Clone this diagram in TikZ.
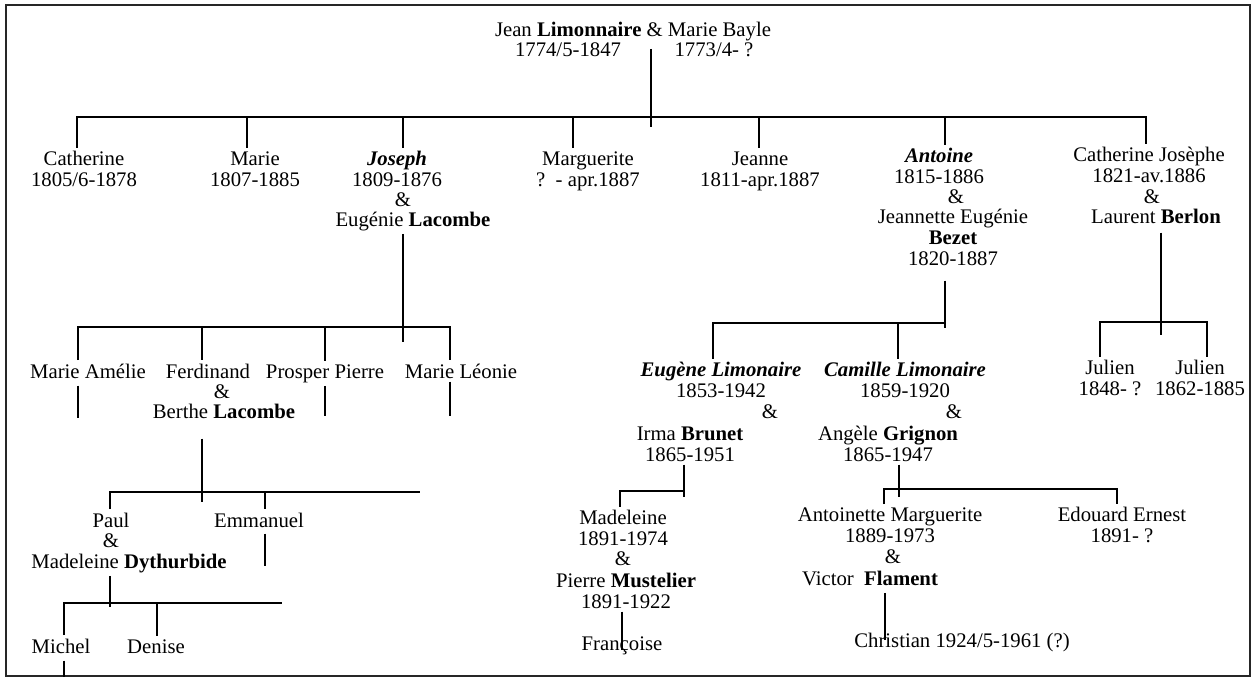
\documentclass[tikz,border=0pt]{standalone}
\usepackage{fontspec}
\setmainfont{Liberation Serif}

\begin{document}
\begin{tikzpicture}[x=0.02cm, y=-0.02cm, line width=1pt]
    \tikzstyle{every node} = [font=\fontsize{11.8}{11.7}\selectfont]
    \tikzstyle{pers} = [anchor=base, align=center, inner sep=1.5pt]
    \useasboundingbox (0, 0) rectangle (1254, 679);
    \draw [line width=1.6pt, black!85] (6, 5) rectangle (1250, 676);

    \node (root) [pers] at (633, 37) {Jean \textbf{Limonnaire} \& Marie Bayle};
    \node (rjd) [pers] at (568, 57) {1774/5-1847};
    \node (rmd) [pers] at (714, 57) {1773/4- ?};

    \node (cat) [pers] at (84, 186) {Catherine\\1805/6-1878};
    \node (mar) [pers] at (255, 186) {Marie\\1807-1885};
    \node (jos) [pers] at (397, 186) {\textbf{\textit{Joseph}}\\1809-1876};
    \node (josa) [pers] at (403, 206) {\&};
    \node (eug) [pers] at (413, 226) {Eugénie \textbf{Lacombe}};
    \node (mrg) [pers] at (588, 186) {Marguerite\\?\ \ - apr.1887};
    \node (jea) [pers] at (760, 186) {Jeanne\\1811-apr.1887};
    \node (ant) [pers] at (939, 183) {\textbf{\textit{Antoine}}\\1815-1886};
    \node (anta) [pers] at (956, 203) {\&};
    \node (jeu) [pers] at (953, 265) {Jeannette Eugénie\\\textbf{Bezet}\\1820-1887};
    \node (cjo) [pers] at (1149, 182) {Catherine Josèphe\\1821-av.1886};
    \node (cjoa) [pers] at (1152, 203) {\&};
    \node (lau) [pers] at (1156, 223) {Laurent \textbf{Berlon}};

    \node (mam) [pers] at (88, 378) {Marie Amélie};
    \node (fer) [pers] at (208, 378) {Ferdinand};
    \node (fera) [pers] at (222, 398) {\&};
    \node (ber) [pers] at (224, 418) {Berthe \textbf{Lacombe}};
    \node (pro) [pers] at (325, 378) {Prosper Pierre};
    \node (mle) [pers] at (461, 378) {Marie Léonie};

    \node (pau) [pers] at (111, 527) {Paul};
    \node (paua) [pers] at (111, 547) {\&};
    \node (mad) [pers] at (129, 568) {Madeleine \textbf{Dythurbide}};
    \node (emm) [pers] at (259, 527) {Emmanuel};
    \node (mic) [pers] at (61, 653) {Michel};
    \node (den) [pers] at (156, 653) {Denise};

    \node (eul) [pers] at (721, 397) {\textbf{\textit{Eugène Limonaire}}\\1853-1942};
    \node (eula) [pers] at (770, 418) {\&};
    \node (irm) [pers] at (690, 461) {Irma \textbf{Brunet}\\1865-1951};
    \node (cal) [pers] at (905, 397) {\textbf{\textit{Camille Limonaire}}\\1859-1920};
    \node (cala) [pers] at (954, 418) {\&};
    \node (ang) [pers] at (888, 461) {Angèle \textbf{Grignon}\\1865-1947};

    \node (mdl) [pers] at (623, 545) {Madeleine\\1891-1974};
    \node (mdla) [pers] at (623, 565) {\&};
    \node (pie) [pers] at (626, 608) {Pierre \textbf{Mustelier}\\1891-1922};
    \node (fra) [pers] at (622, 650) {Françoise};

    \node (ama) [pers] at (890, 542) {Antoinette Marguerite\\1889-1973};
    \node (amaa) [pers] at (893, 563) {\&};
    \node (vic) [pers] at (870, 585) {Victor\ \ \textbf{Flament}};
    \node (edo) [pers] at (1122, 542) {Edouard Ernest\\1891- ?};
    \node (chr) [pers] at (962, 647) {Christian 1924/5-1961 (?)};

    \node (ju1) [pers] at (1110, 395) {Julien\\1848- ?};
    \node (ju2) [pers] at (1200, 395) {Julien\\1862-1885};

    \coordinate (g1) at (651, 117);
    \coordinate (g1w) at (77, 117);
    \coordinate (g1e) at (1146, 117);
    \coordinate (dmar) at (247, 117);
    \coordinate (djos) at (403, 117);
    \coordinate (dmrg) at (573, 117);
    \coordinate (djea) at (759, 117);
    \coordinate (dant) at (945, 117);
      \draw (g1 |- root.south) ++(0, 4) -- (g1) -- ++(0, 10);
      \draw (g1w |- cat.north) -- (g1w) -- (g1e) -- (g1e |- cjo.north);
      \draw (dmar) -- (dmar |- mar.north);
      \draw (djos) -- (djos |- jos.north);
      \draw (dmrg) -- (dmrg |- mrg.north);
      \draw (djea) -- (djea |- jea.north);
      \draw (dant) -- (dant |- ant.north);

    \coordinate (g2) at (403, 327);
    \coordinate (g2w) at (78, 327);
    \coordinate (g2e) at (450, 327);
    \coordinate (dfer) at (202, 327);
    \coordinate (dpro) at (325, 327);
      \draw (g2 |- eug.south) -- (g2) -- ++(0, 15);
      \draw (g2w |- mam.north) -- (g2w) -- (g2e) -- (g2e |- mle.north);
      \draw (dfer) -- (dfer |- fer.north);
      \draw (dpro) -- (dpro |- pro.north);
      \draw (g2w |- mam.south) ++(0, 4) -- ++(0, 32);
      \draw (dpro |- pro.south) -- ++(0, 30);
      \draw (g2e |- mle.south) -- ++(0, 34);

    \coordinate (g3) at (202, 492);
    \coordinate (g3w) at (110, 492);
    \coordinate (g3e) at (420, 492);
    \coordinate (demm) at (265, 492);
      \draw (g3 |- ber.south) ++(0, 17) -- (g3) -- ++(0, 10);
      \draw (g3w |- pau.north) -- (g3w) -- (g3e);
      \draw (demm) -- (demm |- emm.north);
      \draw (demm |- emm.south) ++(0, 3) -- ++(0, 32);

    \coordinate (g4) at (110, 603);
    \coordinate (g4w) at (64, 603);
    \coordinate (g4e) at (282, 603);
    \coordinate (dden) at (157, 603);
      \draw (g4 |- mad.south) -- (g4) -- ++(0, 4);
      \draw (g4w |- mic.north) -- (g4w) -- (g4e);
      \draw (dden) -- (dden |- den.north);
      \draw (g4w |- mic.south) ++(0, 4) -- ++(0, 16);

    \coordinate (g5) at (945, 323);
    \coordinate (g5w) at (713, 323);
    \coordinate (dcal) at (898, 323);
      \draw (g5 |- jeu.south) ++(0, 12) -- (g5) -- ++(0, 5);
      \draw (g5w |- eul.north) -- (g5w) -- (g5);
      \draw (dcal) -- (dcal |- cal.north);

    \coordinate (g6) at (684, 491);
    \coordinate (g6w) at (620, 491);
      \draw (g6 |- irm.south) -- (g6) -- ++(0, 6);
      \draw (g6w |- mdl.north) -- (g6w) -- (g6);
      \draw (fra |- pie.south) -- (fra.base);

    \coordinate (g7) at (899, 489);
    \coordinate (g7w) at (884, 489);
    \coordinate (g7e) at (1117, 489);
    \coordinate (dchr) at (885, 640);
      \draw (g7 |- ang.south) -- (g7) -- ++(0, 8);
      \draw (g7w |- ama.north) -- (g7w) -- (g7e) -- (g7e |- edo.north);
      \draw (dchr |- vic.south) ++(0, 4) -- (dchr);

    \coordinate (g8) at (1161, 322);
    \coordinate (g8w) at (1100, 322);
    \coordinate (g8e) at (1207, 322);
      \draw (g8 |- lau.south) ++(0, 6) -- (g8) -- ++(0, 13);
      \draw (g8w |- ju1.north) -- (g8w) -- (g8e) -- (g8e |- ju2.north);
  \end{tikzpicture}
\end{document}
